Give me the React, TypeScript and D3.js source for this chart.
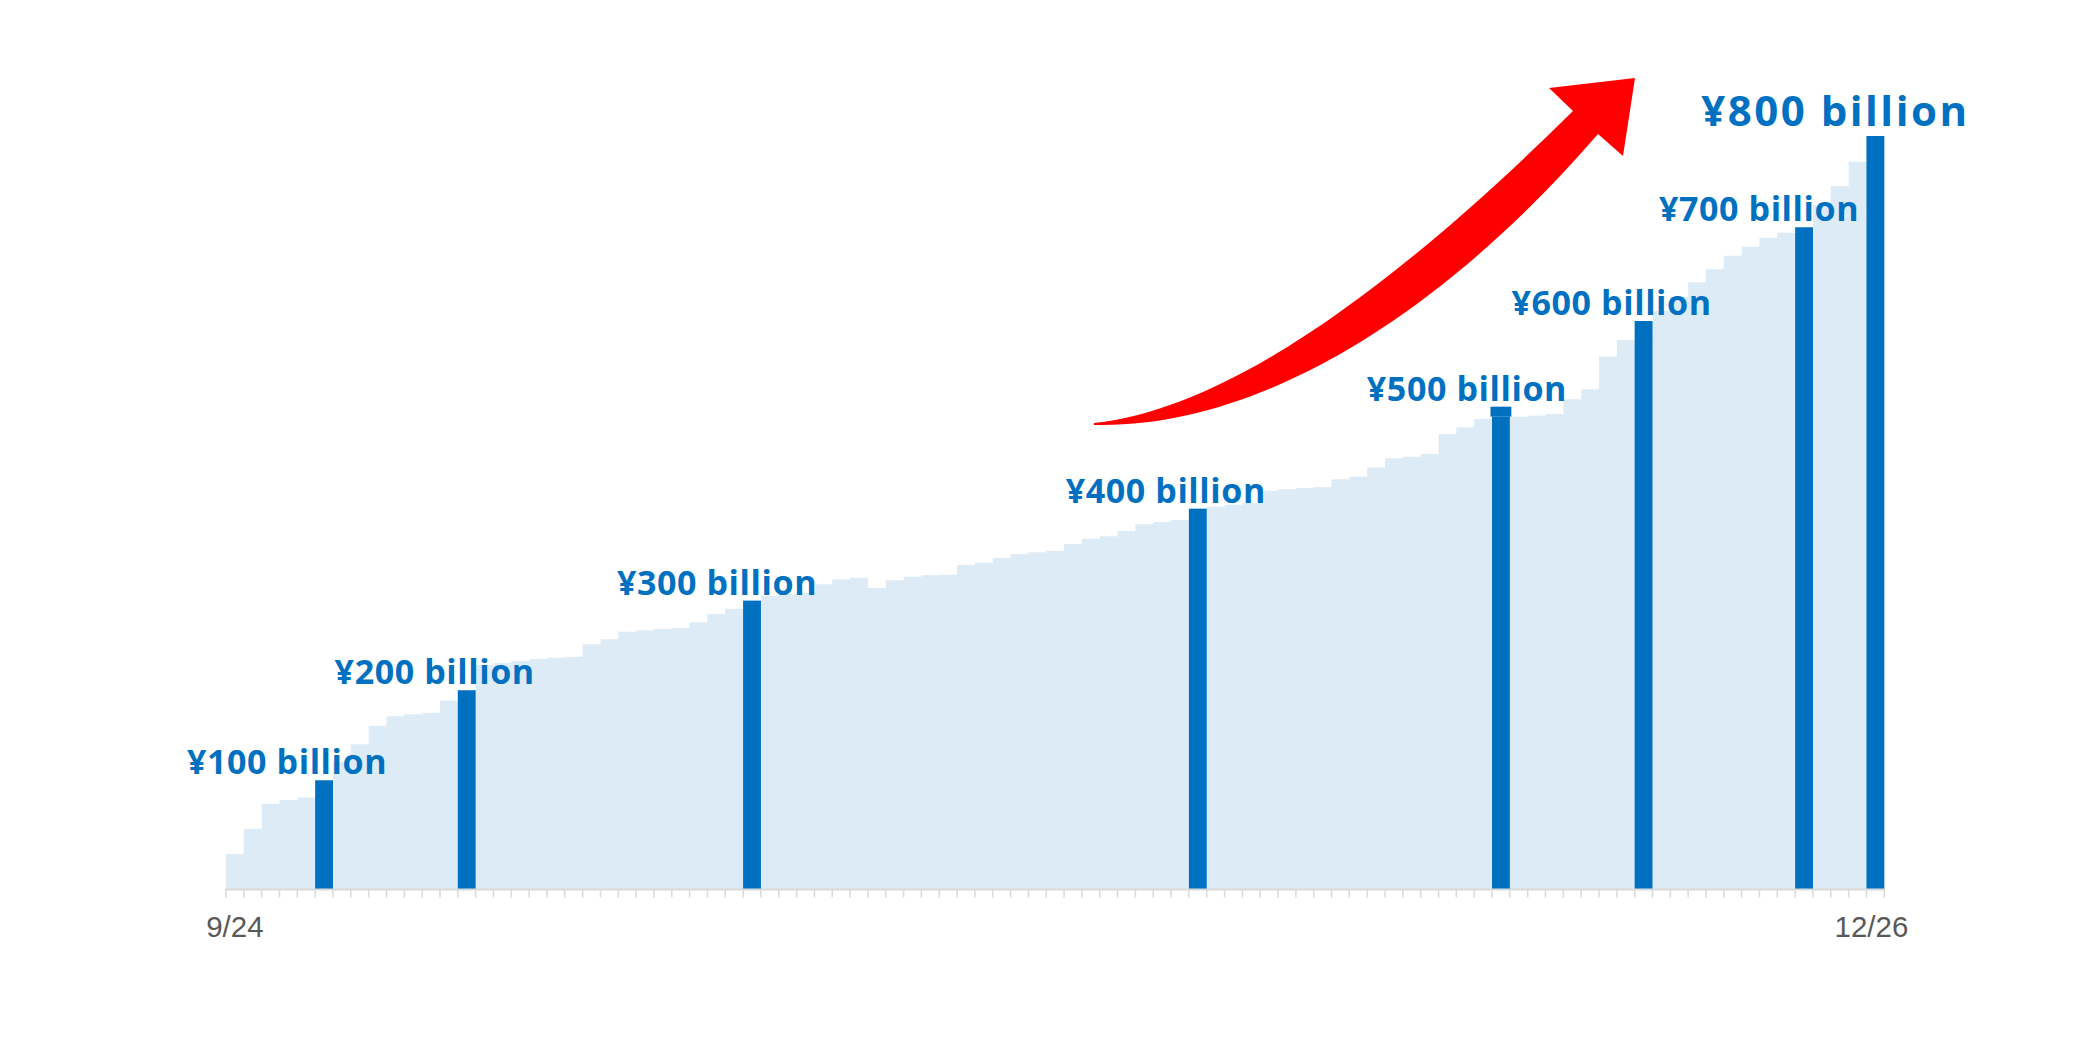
import React from 'react';
import * as d3 from 'd3';

// Cumulative amount per day (¥ billion), one entry per day column
const cumulative: number[] = [
  20, 47.1, 74.6, 78.6, 81.3, 100, 119.9, 139.1, 159.3, 169.5,
  171.7, 173.4, 186.5, 197.8, 225.3, 227.4, 229.6, 231.8, 233.2, 234.3,
  247.8, 253.2, 261.5, 263, 264.4, 265.5, 271.7, 280.7, 286.4, 295.2,
  300.2, 302.4, 303.5, 313, 318.4, 320.1, 308.9, 317.3, 321.2, 322.7,
  323.4, 333.9, 336.4, 341.5, 345.9, 347.7, 349.5, 356.7, 362.5, 365.1,
  370.9, 378.1, 380.6, 382.8, 395.1, 397.3, 399.4, 401.3, 414.6, 416.2,
  417.6, 418.3, 427, 429.9, 440.1, 449.8, 451.6, 454.5, 476.2, 483.5,
  492.5, 505.9, 495.1, 496.1, 497.9, 513.9, 524.8, 560.2, 578.4, 599,
  609.9, 625.1, 641.1, 655.3, 670, 679.8, 689.5, 695, 700.8, 725.1,
  745.7, 772.1, 800,
];
const days: number[] = cumulative.map((_, i) => i);

// Milestone days (highlighted bars) and their labels
const milestoneDays: number[] = [5, 13, 29, 54, 71, 79, 88, 92];
const milestoneLabels: string[] = [
  '¥100 billion', '¥200 billion', '¥300 billion', '¥400 billion',
  '¥500 billion', '¥600 billion', '¥700 billion', '¥800 billion',
];
// the ¥500 bar's body ends lower than its cap
const capBodyValue = 495.1;
const capDay = 71;

// Axis labels
const axisLabelDays: number[] = [0, 92];
const axisLabelTexts: string[] = ['9/24', '12/26'];

// layout
const W = 2079;
const H = 1051;
const LEFT = 226;
const RIGHT = 1884.3;
const BASE = 889;
const TOP800 = 136;
const Y_MIN = -18.1;
const labelDx = [-37, -32, -35, -32, -34, -32, -45, -40];

const AREA_COLOR = '#DDEBF7';
const BAR_COLOR = '#0070C0';
const AXIS_COLOR = '#D9D9D9';

export default function App() {
  const x = d3.scaleBand<number>().domain(days).range([LEFT, RIGHT]).padding(0);
  const y = d3.scaleLinear().domain([Y_MIN, 800]).range([BASE, TOP800]);
  const bw = x.bandwidth();

  const pts: [number, number][] = cumulative.map((v, i) => [x(i) as number, v]);
  pts.push([RIGHT, cumulative[cumulative.length - 1]]);
  const area = d3
    .area<[number, number]>()
    .x((d) => d[0])
    .y0(y(Y_MIN))
    .y1((d) => y(d[1]))
    .curve(d3.curveStepAfter);

  const tickXs = days.map((d) => x(d) as number).concat([RIGHT]);

  // decorative red arrow
  const arrow =
    'M1094,423 C1244,407 1423,259 1573,111 L1549,88 L1635,78 L1623,156 L1598,134 ' +
    'C1455,300 1270,429 1094,425 Z';

  return (
    <svg
      width={W}
      height={H}
      style={{ position: 'absolute', left: 0, top: 0, background: '#fff' }}
    >
      <rect x={0} y={0} width={W} height={H} fill="#fff" />
      <path d={area(pts) || ''} fill={AREA_COLOR} />

      {milestoneDays.map((d, i) => {
        const v = cumulative[d];
        const bx = x(d) as number;
        return (
          <g key={i}>
            {d === capDay ? (
              <>
                <rect x={bx} y={y(capBodyValue)} width={bw} height={BASE - y(capBodyValue)} fill={BAR_COLOR} />
                <rect x={bx - 1.5} y={y(v)} width={bw + 3} height={y(capBodyValue) - y(v)} fill={BAR_COLOR} />
              </>
            ) : (
              <rect x={bx} y={y(v)} width={bw} height={BASE - y(v)} fill={BAR_COLOR} />
            )}
          </g>
        );
      })}

      <line x1={LEFT} x2={RIGHT} y1={BASE + 0.5} y2={BASE + 0.5} stroke={AXIS_COLOR} strokeWidth={2} />
      {tickXs.map((tx, i) => (
        <line key={i} x1={tx} x2={tx} y1={BASE} y2={BASE + 8.5} stroke={AXIS_COLOR} strokeWidth={1.5} />
      ))}

      {axisLabelDays.map((d, i) => (
        <text
          key={i}
          x={(x(d) as number) + bw / 2 - (i === 1 ? 4 : 0)}
          y={937}
          textAnchor="middle"
          fontFamily="'Liberation Sans', Arial, sans-serif"
          fontSize={29.5}
          fill="#595959"
        >
          {axisLabelTexts[i]}
        </text>
      ))}

      {milestoneDays.map((d, i) => {
        const big = i === milestoneDays.length - 1;
        const cx = (x(d) as number) + bw / 2 + labelDx[i];
        const top = y(cumulative[d]);
        return (
          <text
            key={i}
            x={cx}
            y={top - (big ? 10 : 6)}
            textAnchor="middle"
            fontFamily="'Open Sans', 'Noto Sans', sans-serif"
            fontWeight={700}
            fontSize={big ? 42 : 34}
            letterSpacing={big ? 2.5 : 0.6}
            fill={BAR_COLOR}
          >
            {milestoneLabels[i]}
          </text>
        );
      })}

      <path d={arrow} fill="#FF0000" />
    </svg>
  );
}
